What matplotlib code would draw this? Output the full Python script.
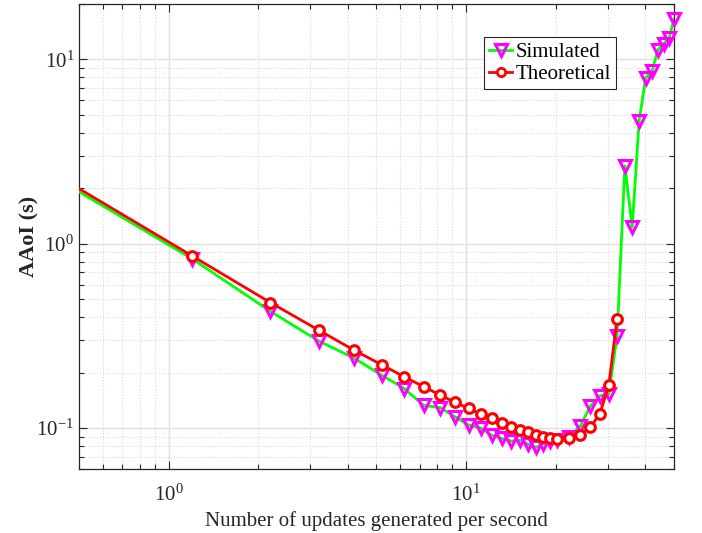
import numpy as np
import matplotlib
matplotlib.use("Agg")
import matplotlib.pyplot as plt

plt.rcParams['font.family'] = ['Liberation Serif', 'DejaVu Serif']
plt.rcParams['mathtext.fontset'] = 'custom'
plt.rcParams['mathtext.rm'] = 'Liberation Serif'
plt.rcParams['mathtext.it'] = 'Liberation Serif:italic'
plt.rcParams['mathtext.bf'] = 'Liberation Serif:bold'

# -------------------------------------------------
# Data
# -------------------------------------------------
rate = [0.2, 1.2, 2.2, 3.2, 4.2, 5.2, 6.2, 7.2, 8.2, 9.2, 10.2,
        11.2, 12.2, 13.2, 14.2, 15.2, 16.2, 17.2, 18.2, 19.2, 20.2,
        22.2, 24.2, 26.2, 28.2, 30.2, 32.2,
        34.2, 36.2, 38.2, 40.2, 42.2, 44.2, 46.2, 48.2, 50.0]

simulated = [4.6, 0.83, 0.43, 0.297, 0.24, 0.194, 0.164, 0.133, 0.129, 0.115, 0.104,
             0.100, 0.0916, 0.0879, 0.085, 0.086, 0.0816, 0.0788, 0.082, 0.085, 0.086,
             0.090, 0.1025, 0.132, 0.150, 0.153, 0.315,
             2.65, 1.23, 4.66, 7.95, 8.64, 11.3, 12.2, 13.1, 16.5]

rate_theo = rate[:27]
theoretical = [4.8, 0.86, 0.48, 0.34, 0.265, 0.221, 0.19, 0.168, 0.151, 0.138, 0.128,
               0.119, 0.113, 0.107, 0.102, 0.098, 0.0948, 0.092, 0.0898, 0.0883, 0.0876,
               0.0879, 0.092, 0.101, 0.120, 0.171, 0.393]

xlim = (0.5, 50)
ylim = (0.06, 20)

# -------------------------------------------------
# Plot
# -------------------------------------------------
fig = plt.figure(figsize=(7.02, 5.33), dpi=100)
ax = fig.add_axes([0.1125, 0.12, 0.8475, 0.8725])

rs = np.array(rate)
ss = np.array(simulated)
rt = np.array(rate_theo)
tt = np.array(theoretical)

ax.plot(rs, ss, '-', color=(0, 1, 0), lw=2.0, zorder=3)
m = (rs >= xlim[0]) & (rs <= xlim[1])
ax.plot(rs[m], ss[m], 'v', ms=9, mfc='none', mec=(1, 0, 1), mew=2.2,
        clip_on=False, zorder=4)

ax.plot(rt, tt, '-', color=(1, 0, 0), lw=2.0, zorder=5)
m = (rt >= xlim[0]) & (rt <= xlim[1])
ax.plot(rt[m], tt[m], 'o', ms=7, mfc='white', mec=(1, 0, 0), mew=2.2,
        clip_on=False, zorder=6)

# legend proxies
h1, = ax.plot([], [], '-v', color=(0, 1, 0), lw=2.0, ms=9, mfc='none',
              mec=(1, 0, 1), mew=2.2)
h2, = ax.plot([], [], '-o', color=(1, 0, 0), lw=2.0, ms=6, mfc='white',
              mec=(1, 0, 0), mew=2.0)

ax.set_xscale('log')
ax.set_yscale('log')
ax.set_xlim(*xlim)
ax.set_ylim(*ylim)

ax.grid(True, which='major', color='#e0e0e0', lw=1.0, ls='-')
ax.grid(True, which='minor', color='#dadada', lw=0.8, ls=':')
ax.set_axisbelow(True)

ax.tick_params(which='both', direction='in', top=True, right=True,
               labelsize=15, colors='#262626')
ax.tick_params(which='major', length=6, width=0.8)
ax.tick_params(which='minor', length=3.5, width=0.8)
ax.tick_params(axis='x', pad=11)
for s in ax.spines.values():
    s.set_color('#262626')
    s.set_linewidth(0.9)

ax.set_xlabel("Number of updates generated per second", fontsize=15,
              color='#262626', labelpad=4)
ax.set_ylabel("AAoI (s)", fontsize=16, fontweight='bold', color='#262626',
              labelpad=-2)

leg = ax.legend([h1, h2], ["Simulated", "Theoretical"], loc='upper left',
                bbox_to_anchor=(0.681, 0.929), fontsize=15, handlelength=1.1,
                handletextpad=0.15, borderpad=0.25, labelspacing=0.12,
                borderaxespad=0, fancybox=False, framealpha=1,
                edgecolor='#262626')
leg.get_frame().set_linewidth(0.8)

fig.savefig("out.png", dpi=100)
